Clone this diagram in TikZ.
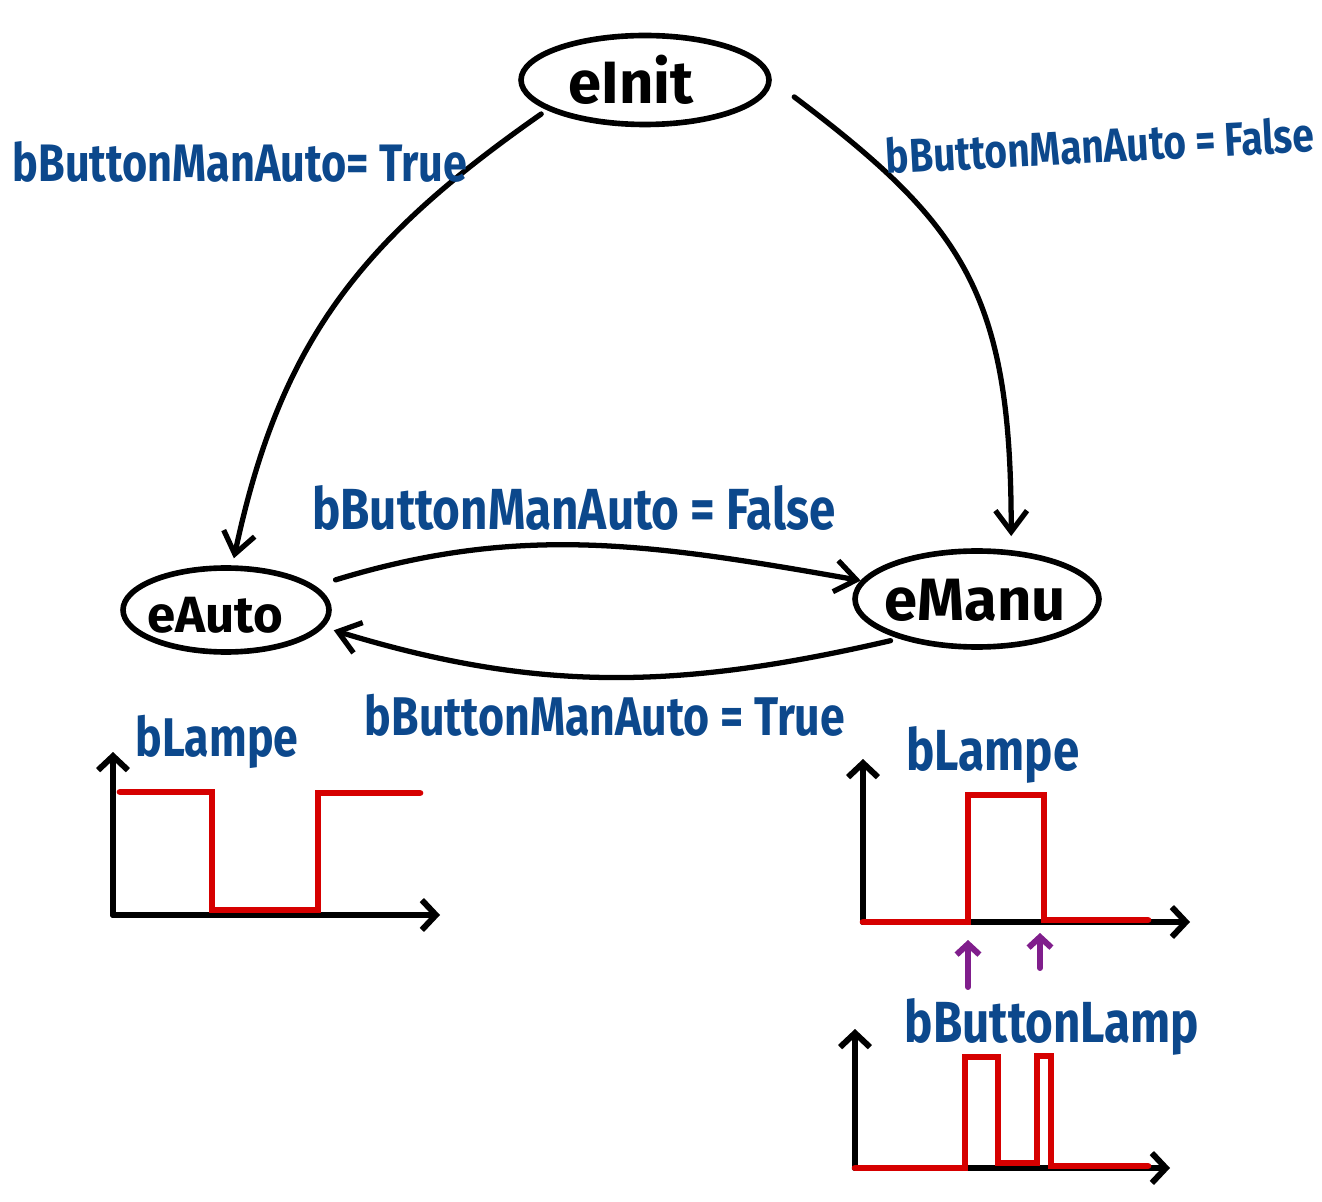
\documentclass[tikz,border=0pt]{standalone}
\usepackage{fontspec}
\setmainfont{Fira Sans}
\newfontfamily\hand[FakeStretch=0.82]{Fira Sans}
\usetikzlibrary{shapes.geometric,arrows.meta}
\definecolor{lblue}{RGB}{12,72,140}
\definecolor{sigred}{RGB}{214,0,0}
\definecolor{ppl}{RGB}{128,30,140}
\tikzset{
  state/.style={ellipse, draw, line width=3.2pt, inner sep=0pt},
  stxt/.style={font=\bfseries\fontsize{34}{38}\selectfont, inner sep=0pt},
  trans/.style={line width=3pt, line cap=round, -{Straight Barb[length=12pt,width=18pt]}},
  lbl/.style={text=lblue, inner sep=0pt, font=\hand\bfseries\fontsize{30}{34}\selectfont},
  axisline/.style={line width=3.4pt, line cap=round, -{Straight Barb[length=8pt,width=17pt]}},
  sig/.style={draw=sigred, line width=3.8pt, line cap=round, line join=miter},
  parrow/.style={draw=ppl, line width=3.4pt, line cap=round, -{Straight Barb[length=6pt,width=13pt]}}
}
\begin{document}
\begin{tikzpicture}[x=0.02cm,y=-0.02cm]
\useasboundingbox (0,0) rectangle (1322,1202);

% states
\node[state, minimum width=4.96cm, minimum height=1.78cm] (eInit) at (645,80) {};
\node[state, minimum width=4.12cm, minimum height=1.68cm] (eAuto) at (226,610) {};
\node[state, minimum width=4.88cm, minimum height=1.92cm] (eManu) at (977,599) {};
\node[stxt] (tInit) at (631,80) {eInit};
\node[stxt, font=\bfseries\fontsize{29}{32}\selectfont] (tAuto) at (215,615) {eAuto};
\node[stxt] (tManu) at (975,600) {eManu};

% transitions
\draw[trans, shorten <=4pt] (eInit.197) to[out=215, in=78, looseness=1.05] ([yshift=4pt]eAuto.80);
\draw[trans, shorten <=16pt] (eInit.east) to[out=-37, in=90, looseness=1.2] ([yshift=8pt]eManu.55);
\draw[trans, shorten <=12pt] (eAuto.15) to[out=17, in=170] (eManu.171);
\draw[trans, shorten <=5pt, shorten >=6pt] (eManu.207) to[out=193, in=-17] (eAuto.-10);

% labels
\node[lbl] (l1) at (240,162) {bButtonManAuto= True};
\node[lbl, font=\hand\bfseries\fontsize{27}{30}\selectfont, rotate=3] (l2) at (1100,145) {bButtonManAuto = False};
\node[lbl, font=\hand\bfseries\fontsize{33}{36}\selectfont] (l3) at (574,508) {bButtonManAuto = False};
\node[lbl, font=\hand\bfseries\fontsize{31}{34}\selectfont] (l4) at (605,715) {bButtonManAuto = True};
\node[lbl, font=\hand\bfseries\fontsize{31}{34}\selectfont] (sA) at (217,742) {bLampe};
\node[lbl, font=\hand\bfseries\fontsize{33}{36}\selectfont] (sM) at (993,755) {bLampe};
\node[lbl, font=\hand\bfseries\fontsize{33}{36}\selectfont] (sB) at (1052,1027) {bButtonLamp};

% left chart
\draw[axisline] (113,915) -- (113,752);
\draw[axisline] (113,915) -- (440,915);
\draw[sig] (120,792) -- (212,792) -- (212,910) -- (318,910) -- (318,793) -- (420,793);

% right upper chart
\draw[axisline] (863,922) -- (863,759);
\draw[axisline] (863,922) -- (1190,922);
\draw[sig] (863,922) -- (968,922) -- (968,795) -- (1044,795) -- (1044,920) -- (1148,920);
\draw[parrow] (968,987) -- (968,940);
\draw[parrow] (1040,968) -- (1040,933);

% right lower chart
\draw[axisline] (855,1168) -- (855,1029);
\draw[axisline] (855,1168) -- (1170,1168);
\draw[sig] (855,1168) -- (965,1168) -- (965,1057) -- (998,1057) -- (998,1163) -- (1037,1163) -- (1037,1056) -- (1051,1056) -- (1051,1166) -- (1148,1166);
\end{tikzpicture}
\end{document}
